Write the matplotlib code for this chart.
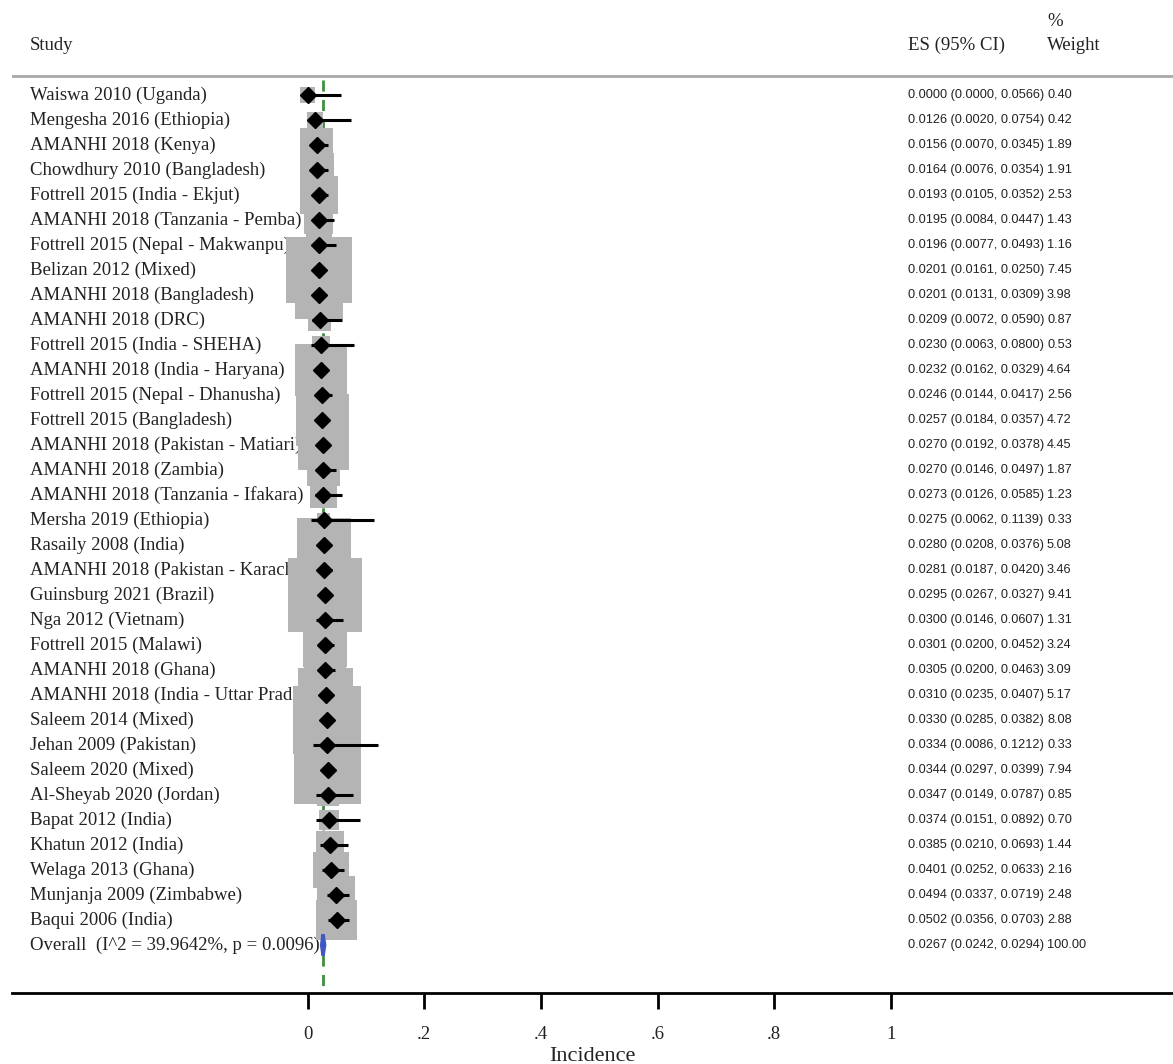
import numpy as np
import matplotlib.pyplot as plt

studies = ["Waiswa 2010 (Uganda)", "Mengesha 2016 (Ethiopia)", "AMANHI 2018 (Kenya)",
           "Chowdhury 2010 (Bangladesh)", "Fottrell 2015 (India - Ekjut)",
           "AMANHI 2018 (Tanzania - Pemba)", "Fottrell 2015 (Nepal - Makwanpu)",
           "Belizan 2012 (Mixed)", "AMANHI 2018 (Bangladesh)", "AMANHI 2018 (DRC)",
           "Fottrell 2015 (India - SHEHA)", "AMANHI 2018 (India - Haryana)",
           "Fottrell 2015 (Nepal - Dhanusha)", "Fottrell 2015 (Bangladesh)",
           "AMANHI 2018 (Pakistan - Matiari)", "AMANHI 2018 (Zambia)",
           "AMANHI 2018 (Tanzania - Ifakara)", "Mersha 2019 (Ethiopia)", "Rasaily 2008 (India)",
           "AMANHI 2018 (Pakistan - Karachi)", "Guinsburg 2021 (Brazil)", "Nga 2012 (Vietnam)",
           "Fottrell 2015 (Malawi)", "AMANHI 2018 (Ghana)", "AMANHI 2018 (India - Uttar Pradesh)",
           "Saleem 2014 (Mixed)", "Jehan 2009 (Pakistan)", "Saleem 2020 (Mixed)",
           "Al-Sheyab 2020 (Jordan)", "Bapat 2012 (India)", "Khatun 2012 (India)",
           "Welaga 2013 (Ghana)", "Munjanja 2009 (Zimbabwe)", "Baqui 2006 (India)"]
es = [0.0000, 0.0126, 0.0156, 0.0164, 0.0193, 0.0195, 0.0196, 0.0201, 0.0201, 0.0209,
      0.0230, 0.0232, 0.0246, 0.0257, 0.0270, 0.0270, 0.0273, 0.0275, 0.0280, 0.0281,
      0.0295, 0.0300, 0.0301, 0.0305, 0.0310, 0.0330, 0.0334, 0.0344, 0.0347, 0.0374,
      0.0385, 0.0401, 0.0494, 0.0502]
lo = [0.0000, 0.0020, 0.0070, 0.0076, 0.0105, 0.0084, 0.0077, 0.0161, 0.0131, 0.0072,
      0.0063, 0.0162, 0.0144, 0.0184, 0.0192, 0.0146, 0.0126, 0.0062, 0.0208, 0.0187,
      0.0267, 0.0146, 0.0200, 0.0200, 0.0235, 0.0285, 0.0086, 0.0297, 0.0149, 0.0151,
      0.0210, 0.0252, 0.0337, 0.0356]
hi = [0.0566, 0.0754, 0.0345, 0.0354, 0.0352, 0.0447, 0.0493, 0.0250, 0.0309, 0.0590,
      0.0800, 0.0329, 0.0417, 0.0357, 0.0378, 0.0497, 0.0585, 0.1139, 0.0376, 0.0420,
      0.0327, 0.0607, 0.0452, 0.0463, 0.0407, 0.0382, 0.1212, 0.0399, 0.0787, 0.0892,
      0.0693, 0.0633, 0.0719, 0.0703]
weight = [0.40, 0.42, 1.89, 1.91, 2.53, 1.43, 1.16, 7.45, 3.98, 0.87,
          0.53, 4.64, 2.56, 4.72, 4.45, 1.87, 1.23, 0.33, 5.08, 3.46,
          9.41, 1.31, 3.24, 3.09, 5.17, 8.08, 0.33, 7.94, 0.85, 0.70,
          1.44, 2.16, 2.48, 2.88]
overall_label = "Overall  (I^2 = 39.9642%, p = 0.0096)"
overall = (0.0267, 0.0242, 0.0294, 100.00)
xticks = [0, 0.2, 0.4, 0.6, 0.8, 1]
xticklabels = ["0", ".2", ".4", ".6", ".8", "1"]

serif = ['Liberation Serif', 'DejaVu Serif']
sans = ['Liberation Sans', 'DejaVu Sans']
ink = '#222222'
num_size = 9.2

# pixel layout of the reference: x=0 at 307.5px, x=1 at 891px, rows 25px apart
def px(p):
    return (p - 307.5) / 583.5

def row(p):
    return (p - 95) / 25.0

fig = plt.figure(figsize=(11.73, 10.64), dpi=100)
ax = fig.add_axes([12 / 1173, 0, 1161 / 1173, 1])
ax.set_xlim(px(12), px(1173))
ax.set_ylim(row(1064), row(0))

n = len(studies)
rows = np.arange(n)
es = np.array(es)
w = np.array(weight)

# headers
ax.text(px(30), row(45), "Study", family=serif, fontsize=13.5, color=ink, va='center')
ax.text(px(908), row(45), "ES (95% CI)", family=serif, fontsize=13.5, color=ink, va='center')
ax.text(px(1047), row(22), "%", family=serif, fontsize=13.5, color=ink, va='center')
ax.text(px(1047), row(45), "Weight", family=serif, fontsize=13.5, color=ink, va='center')
ax.axhline(row(76), color='#a8a8a8', lw=2, zorder=1)

for i in range(n):
    ax.text(px(30), i, studies[i], family=serif, fontsize=13.5, color=ink,
            va='center', zorder=1)
    ax.text(px(908), i, "%.4f (%.4f, %.4f)" % (es[i], lo[i], hi[i]), family=sans,
            fontsize=num_size, color=ink, va='center')
    ax.text(px(1047), i, "%.2f" % weight[i], family=sans, fontsize=num_size,
            color=ink, va='center')

# overall row
ax.text(px(30), n, overall_label, family=serif, fontsize=13.5, color=ink,
        va='center', zorder=1)
ax.text(px(908), n, "%.4f (%.4f, %.4f)" % overall[:3], family=sans,
        fontsize=num_size, color=ink, va='center')
ax.text(px(1047), n, "%.2f" % overall[3], family=sans, fontsize=num_size,
        color=ink, va='center')

axis_row = row(993)
ax.vlines(overall[0], row(80), axis_row, color='#3f8f3f', lw=2,
          linestyles=(0, (4, 3)), zorder=1.5)

# weight boxes, CI lines, point estimates
ax.scatter(es, rows, s=300 * w, marker='s', color='#b4b4b4', linewidths=0, zorder=2)
ax.hlines(rows, lo, hi, color='black', lw=2.2, zorder=3)
ax.plot(es, rows, 'D', color='black', ms=8, zorder=4)

ax.fill([overall[1], overall[0], overall[2], overall[0]],
        [n, n - 0.42, n, n + 0.42], color='#4157c4', lw=2.5, zorder=4)

for s in ['top', 'left', 'right']:
    ax.spines[s].set_visible(False)
ax.spines['bottom'].set_position(('data', axis_row))
ax.spines['bottom'].set_linewidth(2)
ax.set_yticks([])
ax.set_xticks(xticks)
ax.set_xticklabels(xticklabels, family=serif, fontsize=13.5, color=ink)
ax.tick_params(axis='x', direction='out', length=11.5, width=2, pad=12)
ax.set_xlabel("Incidence", family=serif, fontsize=16, color=ink, labelpad=3)

fig.savefig('out.png', dpi=100)
